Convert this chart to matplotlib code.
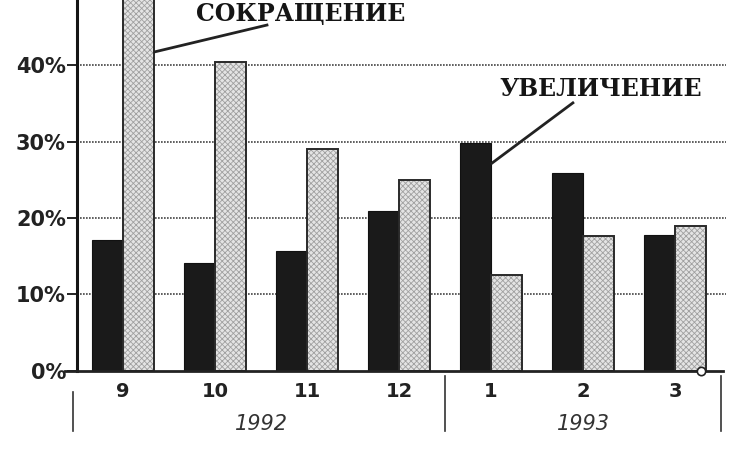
import matplotlib.pyplot as plt
import numpy as np

plt.rcParams['hatch.linewidth'] = 0.6

# months (9..12 of 1992, 1..3 of 1993)
months = ['9', '10', '11', '12', '1', '2', '3']
years = ['1992', '1993']
year_groups = [(0, 3), (4, 6)]
increase = [17.1, 14.1, 15.7, 20.9, 29.9, 25.9, 17.8]   # УВЕЛИЧЕНИЕ
decrease = [52.0, 40.4, 29.1, 25.0, 12.5, 17.7, 18.9]   # СОКРАЩЕНИЕ
yticks = [0, 10, 20, 30, 40, 50]

fig = plt.figure(figsize=(7.34, 4.51), dpi=100)
ax = fig.add_axes([77 / 734, 0.178, 648.6 / 734, 0.846])

x = np.arange(len(months))
w = 0.34

# grid first so bars cover it
for v in yticks[1:-1]:
    ax.plot([-0.5, 6.55], [v, v], color='#444444', lw=1.2,
            ls=(0, (1, 0.8)), zorder=1)

ax.bar(x - w / 2, increase, width=w, color='#1a1a1a',
       edgecolor='#111111', lw=0.8, zorder=2)
ax.bar(x + w / 2, decrease, width=w, color='#e4e4e4',
       edgecolor='#a0a0a0', hatch='xxxxxx', lw=0, zorder=2)
ax.bar(x + w / 2, decrease, width=w, color='none',
       edgecolor='#2a2a2a', lw=1.4, zorder=3)

ax.set_xlim(-0.5, 6.55)
ax.set_ylim(0, 50)

for s in ['top', 'right', 'bottom']:
    ax.spines[s].set_visible(False)
ax.spines['left'].set_linewidth(2.2)
ax.spines['left'].set_color('#151515')

ax.set_yticks(yticks)
ax.set_yticklabels([f'{v}%' for v in yticks], fontsize=15,
                   fontweight='bold', color='#222222')
ax.tick_params(axis='y', length=7, width=1.4, pad=1, color='#222222')

ax.set_xticks(x)
ax.set_xticklabels(months, fontsize=14, fontweight='bold', color='#222222')
ax.tick_params(axis='x', length=0, pad=8)

# baseline
ax.plot([-0.63, 6.52], [0, 0], color='#222222', lw=2, clip_on=False, zorder=4)
ax.plot([6.28], [0], marker='o', ms=6, mfc='white', mec='#222222',
        mew=1.2, clip_on=False, zorder=5)

# year separators and labels
ax.plot([-0.54, -0.54], [-2.8, -7.9], color='#333333', lw=1.2, clip_on=False)
ax.plot([3.5, 3.5], [-0.7, -7.9], color='#333333', lw=1.2, clip_on=False)
ax.plot([6.5, 6.5], [-0.7, -7.9], color='#333333', lw=1.2, clip_on=False)
for (a, b), yr in zip(year_groups, years):
    ax.text((a + b) / 2, -7.0, yr, ha='center', va='center', fontsize=15,
            style='italic', color='#333333', clip_on=False)

# callouts
ax.text(1.935, 46.7, 'СОКРАЩЕНИЕ', ha='center', va='center',
        fontsize=17, fontweight='heavy', family='DejaVu Serif', color='#151515')
ax.plot([0.35, 1.565], [41.8, 45.3], color='#222222', lw=2, zorder=4)
ax.text(5.196, 36.9, 'УВЕЛИЧЕНИЕ', ha='center', va='center',
        fontsize=17, fontweight='heavy', family='DejaVu Serif', color='#151515')
ax.plot([4.01, 4.89], [27.2, 35.1], color='#222222', lw=2, zorder=4)

fig.savefig('out.png', dpi=100, facecolor='white')
